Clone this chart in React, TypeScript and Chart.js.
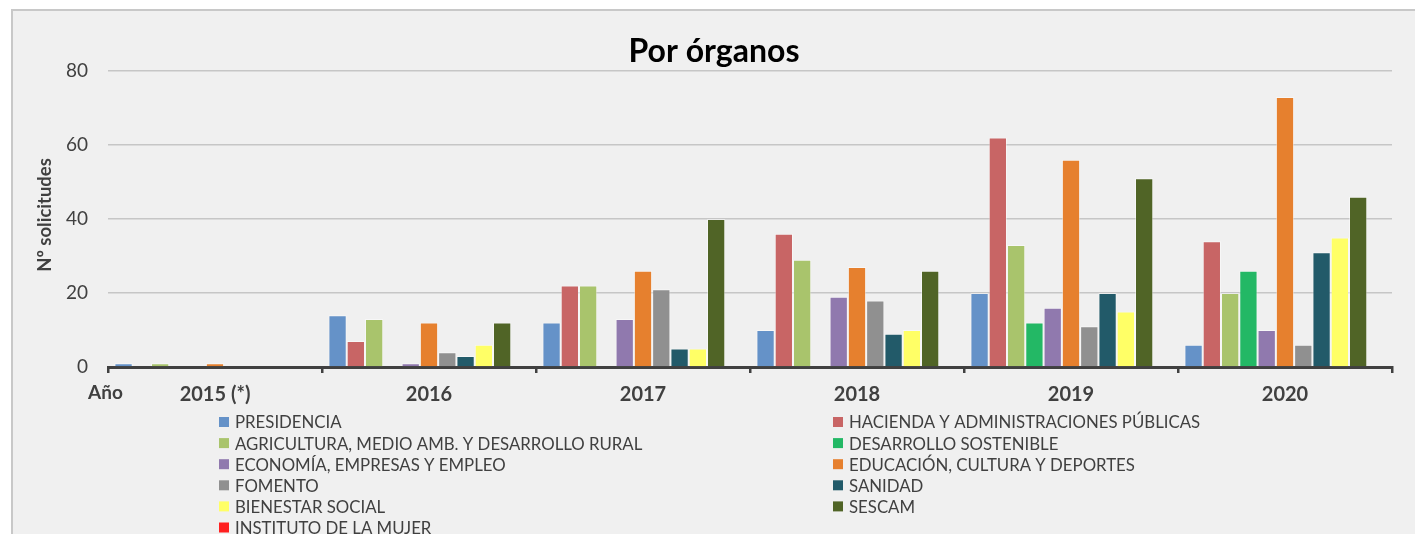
import React, { useEffect, useRef } from "react";
import { Chart, registerables } from "chart.js";

Chart.register(...registerables);

const years = ["2015 (*)", "2016", "2017", "2018", "2019", "2020"];
const seriesNames = [
  "PRESIDENCIA",
  "HACIENDA Y ADMINISTRACIONES PÚBLICAS",
  "AGRICULTURA, MEDIO AMB. Y DESARROLLO RURAL",
  "DESARROLLO SOSTENIBLE",
  "ECONOMÍA, EMPRESAS Y EMPLEO",
  "EDUCACIÓN, CULTURA Y DEPORTES",
  "FOMENTO",
  "SANIDAD",
  "BIENESTAR SOCIAL",
  "SESCAM",
  "INSTITUTO DE LA MUJER",
];
const presidencia = [1, 14, 12, 10, 20, 6];
const hacienda = [0, 7, 22, 36, 62, 34];
const agricultura = [1, 13, 22, 29, 33, 20];
const desarrollo = [0, 0, 0, 0, 12, 26];
const economia = [0, 1, 13, 19, 16, 10];
const educacion = [1, 12, 26, 27, 56, 73];
const fomento = [0, 4, 21, 18, 11, 6];
const sanidad = [0, 3, 5, 9, 20, 31];
const bienestar = [0, 6, 5, 10, 15, 35];
const sescam = [0, 12, 40, 26, 51, 46];
const instituto = [0, 0, 0, 0, 0, 0];
const yTicks = [0, 20, 40, 60, 80];

const seriesValues = [
  presidencia, hacienda, agricultura, desarrollo, economia, educacion,
  fomento, sanidad, bienestar, sescam, instituto,
];
const colors = [
  "#6592c8", "#c86565", "#a9c46c", "#23b865", "#9079ae", "#e6802e",
  "#909090", "#225a69", "#ffff66", "#506426", "#ff2020",
];

const FONT = "Lato, 'Open Sans', sans-serif";
const TEXT = "#404040";

const customText = {
  id: "customText",
  afterDraw(chart: any) {
    const ctx = chart.ctx;
    const W = chart.width;
    ctx.save();
    ctx.fillStyle = "#000";
    ctx.font = `bold 32px ${FONT}`;
    ctx.textAlign = "center";
    ctx.textBaseline = "middle";
    ctx.fillText("Por órganos", W / 2, 41);

    // y title
    ctx.save();
    ctx.translate(32, 204);
    ctx.rotate(-Math.PI / 2);
    ctx.fillStyle = TEXT;
    ctx.font = `bold 18.5px ${FONT}`;
    ctx.fillText("Nº solicitudes", 0, 0);
    ctx.restore();

    // Año
    ctx.fillStyle = TEXT;
    ctx.font = `bold 19px ${FONT}`;
    ctx.textAlign = "left";
    ctx.fillText("Año", 75, 382);

    // legend
    ctx.font = `16.8px ${FONT}`;
    const colX = [206, 820];
    const rowY0 = 411;
    const rowH = 21.1;
    seriesNames.forEach((name, i) => {
      const col = i % 2;
      const row = Math.floor(i / 2);
      const y = rowY0 + row * rowH;
      const x = colX[col];
      ctx.fillStyle = colors[i];
      ctx.fillRect(x, y - 5, 10, 10);
      ctx.fillStyle = TEXT;
      ctx.textAlign = "left";
      ctx.fillText(name, x + 16, y + 1);
    });
    ctx.restore();
  },
};

export default function App() {
  const ref = useRef<HTMLCanvasElement>(null);
  useEffect(() => {
    if (!ref.current) return;
    const chart = new Chart(ref.current, {
      type: "bar",
      data: {
        labels: years,
        datasets: seriesNames.map((name, i) => ({
          label: name,
          data: seriesValues[i],
          backgroundColor: colors[i],
          borderColor: "rgba(255,255,255,0.45)",
          borderWidth: 1,
          categoryPercentage: 0.94,
          barPercentage: 1.0,
        })),
      },
      options: {
        responsive: false,
        animation: false,
        layout: { padding: { left: 0, right: 23, top: 60, bottom: 127 } },
        plugins: {
          legend: { display: false },
          title: { display: false },
          tooltip: { enabled: false },
        },
        scales: {
          x: {
            afterFit: (s: any) => { s.height = 40; },
            grid: {
              display: true,
              drawOnChartArea: false,
              drawTicks: true,
              tickLength: 6,
              color: "#404040",
              lineWidth: 2.5,
            },
            border: { display: true, color: "#404040", width: 3 },
            ticks: {
              color: TEXT,
              padding: 10,
              font: { family: FONT, size: 20, weight: "bold" },
            },
          },
          y: {
            min: 0,
            max: 80,
            afterFit: (s: any) => { s.width = 95; },
            afterBuildTicks: (s: any) => { s.ticks = yTicks.map((v) => ({ value: v })); },
            grid: { color: "#c6c6c6", lineWidth: 1.5, drawTicks: false },
            border: { display: false },
            ticks: {
              color: TEXT,
              padding: 20,
              font: { family: FONT, size: 19 },
            },
          },
        },
      },
      plugins: [customText],
    });
    return () => chart.destroy();
  }, []);
  return (
    <div
      style={{
        position: "absolute",
        left: 11,
        top: 9,
        width: 1404,
        height: 525,
        boxSizing: "border-box",
        borderLeft: "2px solid #c8c8c8",
        borderTop: "2px solid #c8c8c8",
        background: "#f0f0f0",
        overflow: "hidden",
      }}
    >
      <canvas ref={ref} width={1402} height={523} style={{ display: "block", width: 1402, height: 523 }} />
    </div>
  );
}
